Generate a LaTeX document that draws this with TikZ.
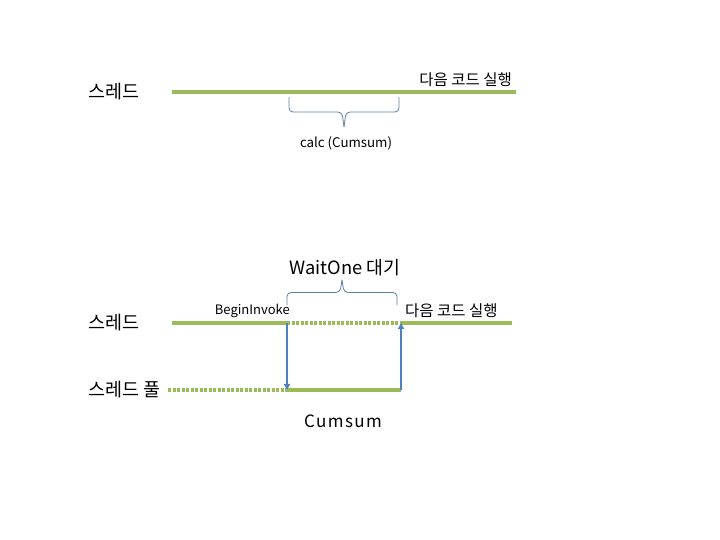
\documentclass[tikz,border=0pt]{standalone}
\usepackage{fontspec}
\setmainfont{Noto Sans CJK KR}
\usetikzlibrary{arrows.meta,positioning}
\definecolor{threadgreen}{HTML}{9BBB59}
\definecolor{callblue}{HTML}{4F81BD}
\definecolor{bracegray}{HTML}{5F7FA8}
\tikzset{
  txt/.style={font=\fontsize{#1}{#1}\selectfont, inner sep=0pt},
  busy/.style={draw=threadgreen, line width=4pt},
  idle/.style={draw=threadgreen, line width=4pt, dash pattern=on 3pt off 1.5pt},
  call/.style={draw=callblue, line width=1.5pt, -{Triangle[length=6pt,width=6pt]}},
  span/.style={draw=bracegray, line width=0.8pt, rounded corners=4pt},
}
% brace from x #1 to x #2, ends at y #3, depth #4 (negative = down)
\newcommand{\SpanBrace}[4]{%
  \draw[span] (#1,#3) -- (#1,#3+#4) -- ({(#1+#2)/2-2},#3+#4) -- ({(#1+#2)/2},#3+2*#4);
  \draw[span] ({(#1+#2)/2},#3+2*#4) -- ({(#1+#2)/2+2},#3+#4) -- (#2,#3+#4) -- (#2,#3);
}

\begin{document}
\begin{tikzpicture}[x=1pt,y=1pt]
  \useasboundingbox (0,0) rectangle (720,540);
  % first case: work on the thread itself
  \node[txt=18.5, anchor=west] (thr1) at (88,448) {스레드};
  \coordinate (t1a) at (172,448);
  \coordinate (t1b) at (516,448);
  \draw[busy] (t1a) -- (t1b);
  \node[txt=15.5, anchor=south east] (next1) at (512,453) {다음 코드 실행};
  \SpanBrace{289}{399}{443}{-15}
  \node[txt=13.3] (calc) at (346,397) {calc (Cumsum)};

  % second case: BeginInvoke on the thread pool
  \node[txt=18.3] (wait) at (345,272) {WaitOne 대기};
  \SpanBrace{287}{397}{235}{12.5}
  \node[txt=18.5, anchor=west] (thr2) at (88,217) {스레드};
  \node[txt=18.5, anchor=west] (pool) at (88,150) {스레드 풀};
  \node[txt=13, anchor=south east] (begin) at (290,222) {BeginInvoke};
  \node[txt=15.5, anchor=south west] (next2) at (405,222) {다음 코드 실행};
  \coordinate (s0) at (172,217);
  \coordinate (s1) at (287,217);
  \coordinate (s2) at (401,217);
  \coordinate (s3) at (512,217);
  \coordinate (p0) at (168,150);
  \coordinate (p1) at (287,150);
  \coordinate (p2) at (401,150);
  \draw[busy] (s0) -- (s1);
  \draw[idle] (s1) -- (s2);
  \draw[busy] (s2) -- (s3);
  \draw[idle] (p0) -- (p1);
  \draw[busy] (p1) -- (p2);
  \draw[call] (s1) -- (p1);
  \draw[call] (p2) -- (s2);
  \node[txt=17] (cumsum) at (343,119) {\addfontfeature{LetterSpace=8}Cumsum};
\end{tikzpicture}
\end{document}
